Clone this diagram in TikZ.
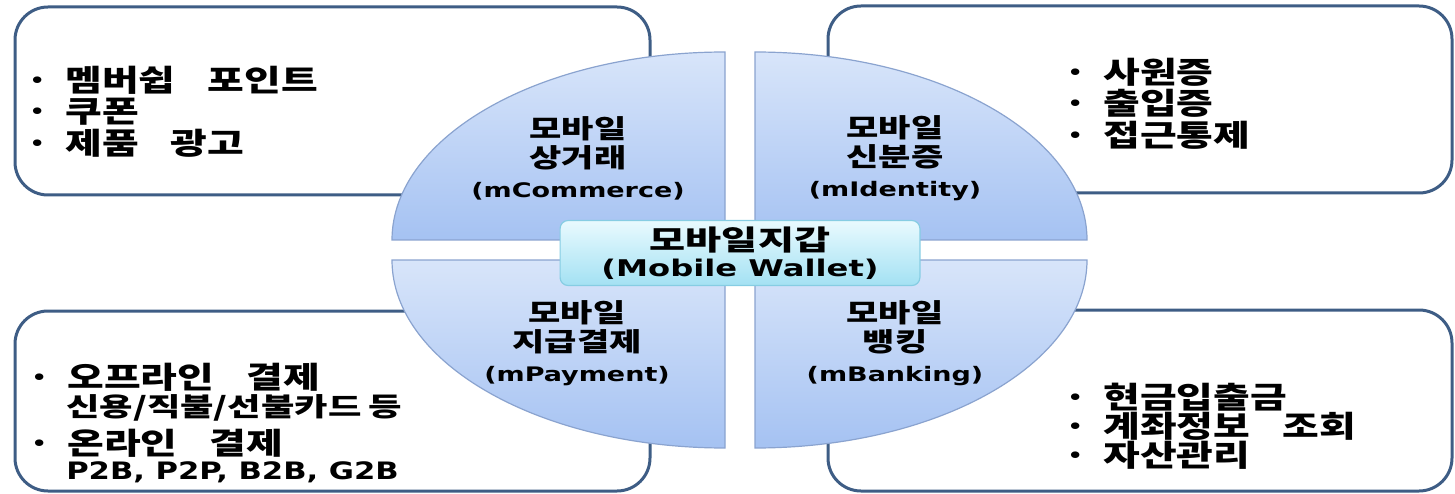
\documentclass[tikz,border=0pt]{standalone}
\usepackage{fontspec}
\usetikzlibrary{positioning}
\newfontfamily\kr{Noto Sans CJK KR}[WordSpace=3.5]
\newfontfamily\lat{DejaVu Sans}
\newcommand\bul{·\hspace{0.4em}}
\definecolor{boxline}{HTML}{3E5D85}
\definecolor{qtop}{HTML}{D8E5FA}
\definecolor{qbot}{HTML}{A5C2F2}
\definecolor{qline}{HTML}{8AA3CF}
\definecolor{wtop}{HTML}{E9FAFE}
\definecolor{wbot}{HTML}{A3E1F3}
\definecolor{wline}{HTML}{86CDE3}
\tikzset{
    itembox/.style={draw=boxline, line width=3pt, rounded corners=33pt, fill=white},
    quarter/.style={draw=qline, line width=1.2pt, top color=qtop, bottom color=qbot},
    wallet/.style={
        rectangle,
        rounded corners=8pt,
        draw=wline, line width=1.2pt,
        top color=wtop, bottom color=wbot,
        minimum width=257pt, minimum height=65pt,
        inner sep=0pt, xscale=1.4,
        align=center,
        font=\kr\bfseries\fontsize{28}{26}\selectfont
    },
    qlabel/.style={align=center, inner sep=0pt, xscale=1.35,
        font=\kr\bfseries\fontsize{26}{29.5}\selectfont},
    item/.style={anchor=west, inner sep=0pt, xscale=1.33,
        font=\kr\bfseries\fontsize{30}{32}\selectfont},
    subitem/.style={item, xscale=1.05, font=\kr\bfseries\fontsize{26}{28}\selectfont},
}

\begin{document}
\begin{tikzpicture}[x=1pt, y=-1pt]
\useasboundingbox (0,0) rectangle (1455,494);

% side boxes
\draw[itembox] (15,7) rectangle (650,195);
\draw[itembox] (828,6) rectangle (1452,193);
\draw[itembox] (15,311) rectangle (650,491);
\draw[itembox] (828,310) rectangle (1452,491);

% four quarters
\path[quarter] (725,240) -- (392,240)
  arc[start angle=180, end angle=270, x radius=333, y radius=188] -- cycle;
\path[quarter] (755,240) -- (755,52)
  arc[start angle=270, end angle=360, x radius=332, y radius=188] -- cycle;
\path[quarter] (725,260) -- (725,448)
  arc[start angle=90, end angle=180, x radius=333, y radius=188] -- cycle;
\path[quarter] (755,260) -- (1087,260)
  arc[start angle=0, end angle=90, x radius=332, y radius=188] -- cycle;

\node[qlabel] (commerce) at (578,158) {모바일\\상거래\\{\lat\fontsize{20}{29.5}\selectfont (mCommerce)}};
\node[qlabel] (identity) at (895,158) {모바일\\신분증\\{\lat\fontsize{20}{29.5}\selectfont (mIdentity)}};
\node[qlabel] (payment) at (577,343) {모바일\\지급결제\\{\lat\fontsize{20}{29.5}\selectfont (mPayment)}};
\node[qlabel] (banking) at (895,343) {모바일\\뱅킹\\{\lat\fontsize{20}{29.5}\selectfont (mBanking)}};

\node[wallet] (wallet) at (740,253) {모바일지갑\\{\lat\fontsize{23}{26}\selectfont (Mobile Wallet)}};

% lists
\foreach \t [count=\i] in {멤버쉽 포인트, 쿠폰, 제품 광고}
  \node[item] (commerce-item-\i) at (25, 48.5+31.5*\i) {\bul\t};

\foreach \t [count=\i] in {사원증, 출입증, 접근통제}
  \node[item] (identity-item-\i) at (1063, 40.5+31.5*\i) {\bul\t};

\foreach \t [count=\i] in {현금입출금, 계좌정보 조회, 자산관리}
  \node[item] (banking-item-\i) at (1063, 368+29*\i) {\bul\t};

\node[item] (payment-item-1) at (27,377) {\bul 오프라인 결제};
\node[subitem] (payment-item-2) at (66,408) {신용/직불/선불카드\hspace{0.2em}등};
\node[item] (payment-item-3) at (27,443) {\bul 온라인 결제};
\node[item, xscale=0.96, font=\lat\bfseries\fontsize{24}{26}\selectfont] (payment-item-4) at (66,472) {P2B, P2P, B2B, G2B};

\end{tikzpicture}
\end{document}
